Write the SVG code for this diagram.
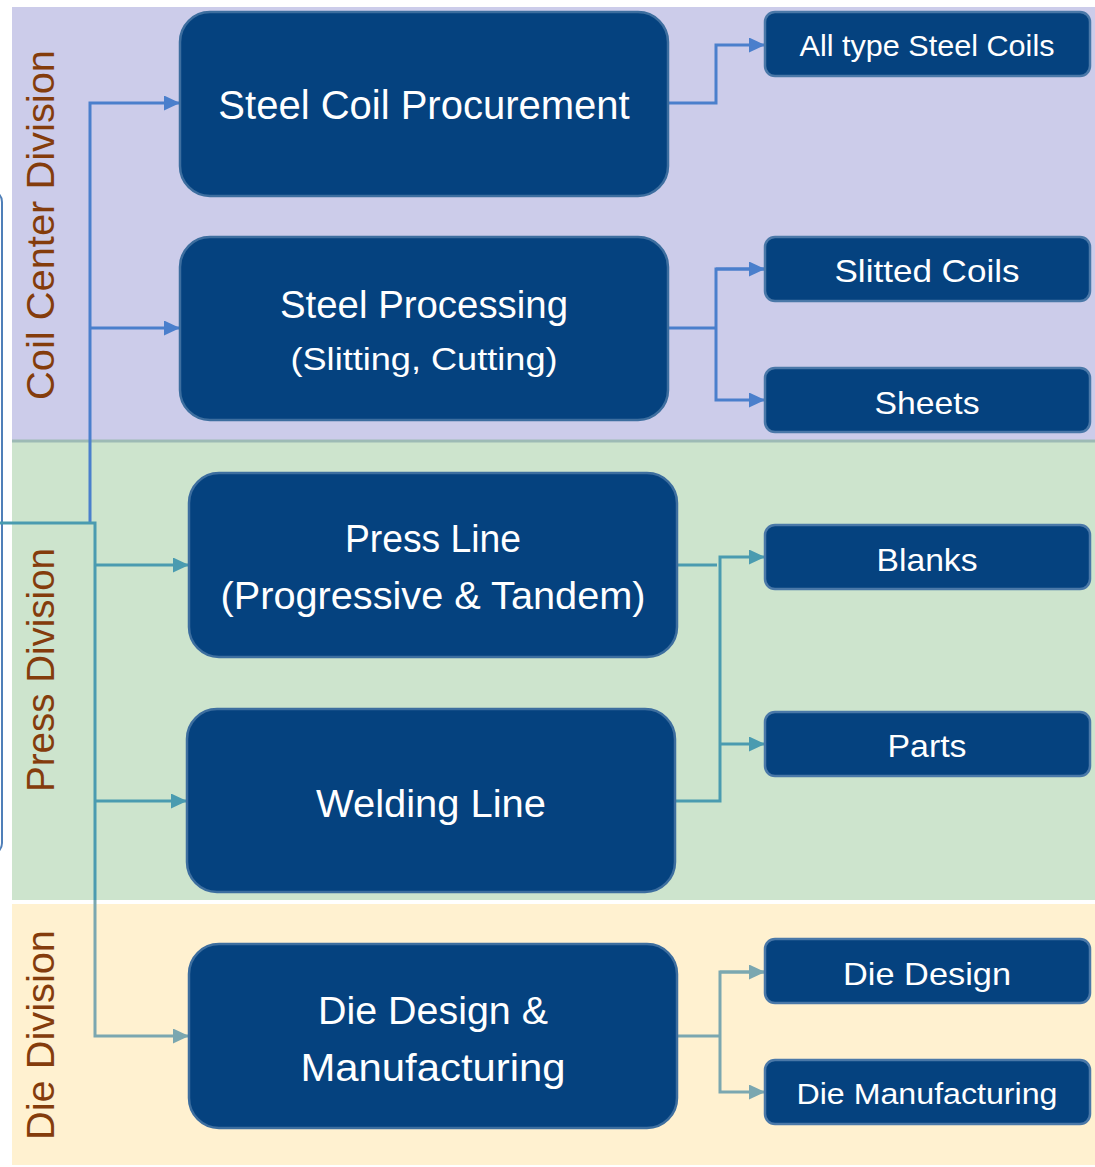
<svg xmlns="http://www.w3.org/2000/svg" width="1095" height="1167" viewBox="0 0 1095 1167">
<style>
.big{fill:#05427F;stroke:#3D6E9F;stroke-width:2.5}
.small{fill:#05427F;stroke:#4A78A8;stroke-width:2.5}
.t{font-family:"Liberation Sans",Arial,sans-serif;fill:#FFFFFF;text-anchor:middle}
.div{font-family:"Liberation Sans",Arial,sans-serif;fill:#843C0C;text-anchor:middle;font-size:39px}
.cb{fill:none;stroke:#4A7FCC;stroke-width:3}
.ct{fill:none;stroke:#4A9BB0;stroke-width:3}
.cg{fill:none;stroke:#7BA7B0;stroke-width:3}
</style>
<defs>
<marker id="ab" markerWidth="16" markerHeight="15" refX="15" refY="7.5" orient="auto" markerUnits="userSpaceOnUse"><path d="M0,0 L16,7.5 L0,15 Z" fill="#4A7FCC"/></marker>
<marker id="at" markerWidth="16" markerHeight="15" refX="15" refY="7.5" orient="auto" markerUnits="userSpaceOnUse"><path d="M0,0 L16,7.5 L0,15 Z" fill="#4A9BB0"/></marker>
<marker id="ag" markerWidth="16" markerHeight="15" refX="15" refY="7.5" orient="auto" markerUnits="userSpaceOnUse"><path d="M0,0 L16,7.5 L0,15 Z" fill="#7BA7B0"/></marker>
</defs>
<rect x="0" y="0" width="1095" height="1167" fill="#FFFFFF"/>
<g id="bands">
<rect x="12" y="7" width="1083" height="434" fill="#CCCCEA"/>
<rect x="12" y="441" width="1083" height="459" fill="#CDE4CD"/>
<line x1="12" y1="441" x2="1095" y2="441" stroke="#9DBAB5" stroke-width="3"/>
<rect x="12" y="904" width="1083" height="261" fill="#FFF1D0"/>
<rect x="-30" y="190" width="32" height="665" rx="12" fill="#FFFFFF" stroke="#4F7FB8" stroke-width="2"/>
</g>
<g id="labels">
<text class="div" transform="translate(54,225) rotate(-90)" textLength="350" lengthAdjust="spacingAndGlyphs">Coil Center Division</text>
<text class="div" transform="translate(54,670) rotate(-90)" textLength="244" lengthAdjust="spacingAndGlyphs">Press Division</text>
<text class="div" transform="translate(54,1035) rotate(-90)" textLength="210" lengthAdjust="spacingAndGlyphs">Die Division</text>
</g>
<g id="connectors">
<polyline class="cb" points="90,523 90,103 179,103" marker-end="url(#ab)"/>
<polyline class="cb" points="90,328 179,328" marker-end="url(#ab)"/>
<polyline class="ct" points="0,523 95,523 95,900"/>
<polyline class="ct" points="95,565 188,565" marker-end="url(#at)"/>
<polyline class="ct" points="95,801 186,801" marker-end="url(#at)"/>
<polyline class="cg" points="95,900 95,1036 188,1036" marker-end="url(#ag)"/>
<polyline class="cb" points="668,103 716,103 716,45 764,45" marker-end="url(#ab)"/>
<polyline class="cb" points="668,328 716,328"/>
<polyline class="cb" points="764,269 716,269 716,400 764,400" marker-end="url(#ab)"/>
<polyline class="cb" points="716,269 764,269" marker-end="url(#ab)"/>
<polyline class="ct" points="677,565 717,565"/>
<polyline class="ct" points="675,801 720,801 720,557 764,557" marker-end="url(#at)"/>
<polyline class="ct" points="720,744 764,744" marker-end="url(#at)"/>
<polyline class="cg" points="677,1036 720,1036"/>
<polyline class="cg" points="764,972 720,972 720,1092 764,1092" marker-end="url(#ag)"/>
<polyline class="cg" points="720,972 764,972" marker-end="url(#ag)"/>
</g>
<g id="n1"><rect class="big" x="180" y="12" width="488" height="184" rx="30"/><text class="t" x="424" y="119" font-size="40">Steel Coil Procurement</text></g>
<g id="n2"><rect class="big" x="180" y="237" width="488" height="183" rx="30"/><text class="t" x="424" y="318" font-size="38" textLength="288" lengthAdjust="spacingAndGlyphs">Steel Processing</text><text class="t" x="424" y="370" font-size="32" textLength="267" lengthAdjust="spacingAndGlyphs">(Slitting, Cutting)</text></g>
<g id="n3"><rect class="big" x="189" y="473" width="488" height="184" rx="30"/><text class="t" x="433" y="552" font-size="38" textLength="176" lengthAdjust="spacingAndGlyphs">Press Line</text><text class="t" x="433" y="609" font-size="38" textLength="425" lengthAdjust="spacingAndGlyphs">(Progressive &amp; Tandem)</text></g>
<g id="n4"><rect class="big" x="187" y="709" width="488" height="183" rx="30"/><text class="t" x="431" y="817" font-size="38" textLength="230" lengthAdjust="spacingAndGlyphs">Welding Line</text></g>
<g id="n5"><rect class="big" x="189" y="944" width="488" height="184" rx="30"/><text class="t" x="433" y="1024" font-size="38" textLength="230" lengthAdjust="spacingAndGlyphs">Die Design &amp;</text><text class="t" x="433" y="1081" font-size="38" textLength="265" lengthAdjust="spacingAndGlyphs">Manufacturing</text></g>
<g id="r1"><rect class="small" x="765" y="12" width="325" height="64" rx="10"/><text class="t" x="927" y="56" font-size="30" textLength="255" lengthAdjust="spacingAndGlyphs">All type Steel Coils</text></g>
<g id="r2"><rect class="small" x="765" y="237" width="325" height="64" rx="10"/><text class="t" x="927" y="282" font-size="32" textLength="185" lengthAdjust="spacingAndGlyphs">Slitted Coils</text></g>
<g id="r3"><rect class="small" x="765" y="368" width="325" height="64" rx="10"/><text class="t" x="927" y="414" font-size="32" textLength="105" lengthAdjust="spacingAndGlyphs">Sheets</text></g>
<g id="r4"><rect class="small" x="765" y="525" width="325" height="64" rx="10"/><text class="t" x="927" y="571" font-size="32" textLength="101" lengthAdjust="spacingAndGlyphs">Blanks</text></g>
<g id="r5"><rect class="small" x="765" y="712" width="325" height="64" rx="10"/><text class="t" x="927" y="757" font-size="32" textLength="79" lengthAdjust="spacingAndGlyphs">Parts</text></g>
<g id="r6"><rect class="small" x="765" y="939" width="325" height="64" rx="10"/><text class="t" x="927" y="985" font-size="32" textLength="168" lengthAdjust="spacingAndGlyphs">Die Design</text></g>
<g id="r7"><rect class="small" x="765" y="1060" width="325" height="64" rx="10"/><text class="t" x="927" y="1104" font-size="29" textLength="261" lengthAdjust="spacingAndGlyphs">Die Manufacturing</text></g>
</svg>
